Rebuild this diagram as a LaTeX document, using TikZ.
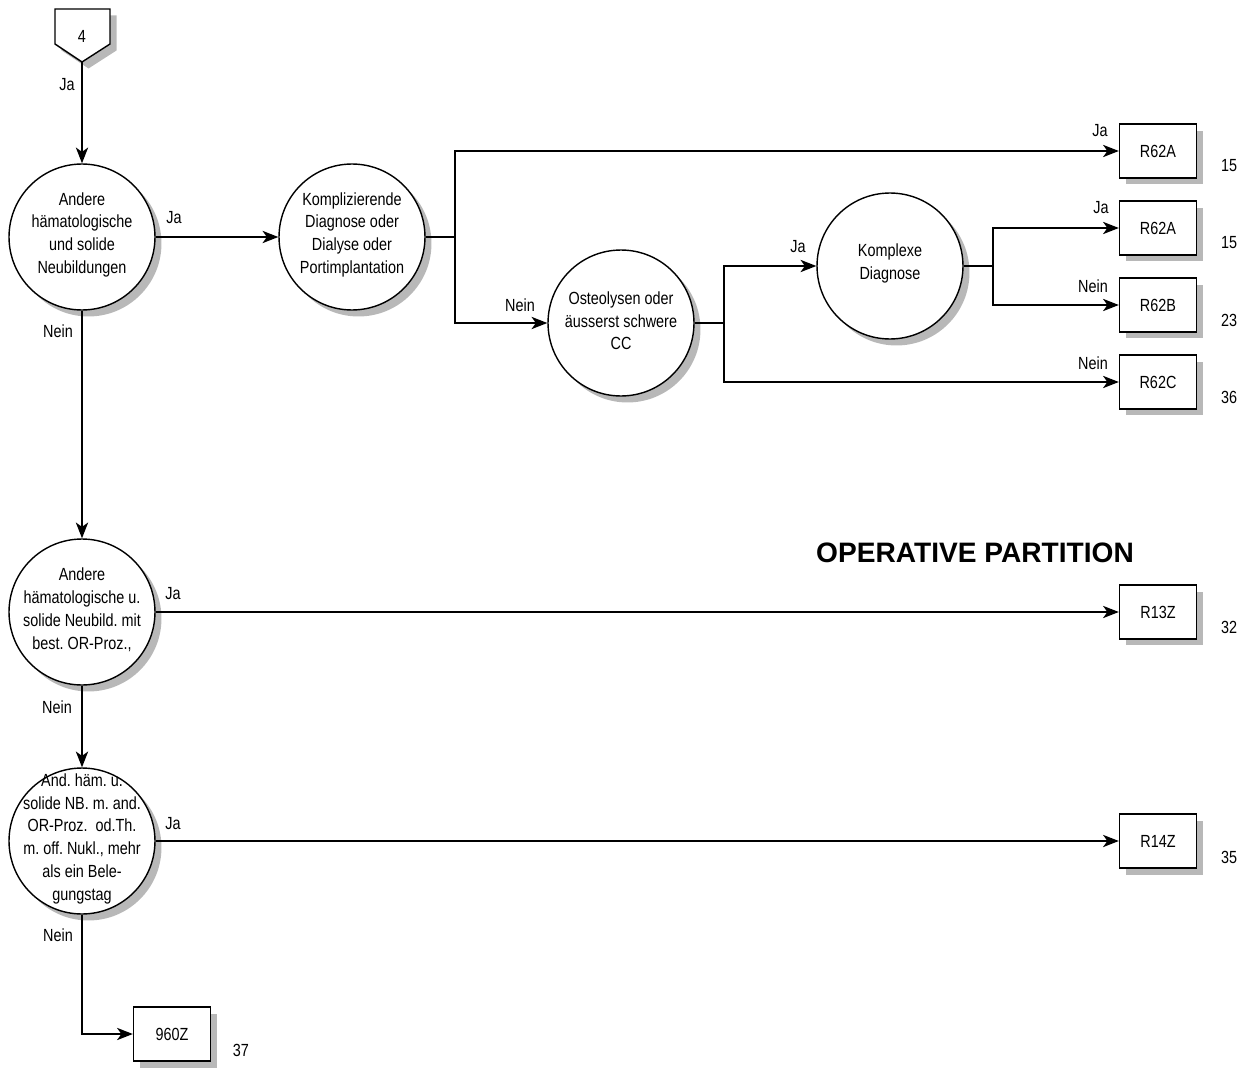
\documentclass[tikz,border=0pt]{standalone}
\usepackage{fontspec}
\setmainfont{Liberation Sans}
\newfontfamily\engfont[FakeStretch=0.82]{Liberation Sans}
\usetikzlibrary{arrows.meta,shadows}
\newcommand{\ktext}[1]{\parbox[c][0pt][c]{2.8cm}{\centering #1}}

\begin{document}
\begin{tikzpicture}[x=0.02cm,y=-0.02cm,font=\engfont\fontsize{10}{13}\selectfont\frenchspacing]
\tikzstyle{schatten}=[drop shadow={shadow xshift=0.13cm,shadow yshift=-0.13cm,fill=black!28,opacity=1}]
\tikzstyle{linie}=[line width=0.8pt]
\tikzstyle{pfeil}=[line width=0.8pt,-{Stealth[length=9pt,width=7pt,inset=2.5pt]}]
\tikzstyle{frage}=[circle,draw,line width=0.8pt,fill=white,minimum size=2.92cm,inner sep=0pt,schatten]
\tikzstyle{drg}=[rectangle,draw,line width=0.8pt,fill=white,minimum width=1.54cm,minimum height=1.08cm,inner sep=0pt,schatten]
\useasboundingbox (0,0) rectangle (1251,1068);

\draw[linie,fill=white,schatten] (55,9) -- (110,9) -- (110,44) -- (82,62) -- (55,44) -- cycle;
\node (vier) at (82,36) {4};
\coordinate (spitze) at (82,62);

\node[frage] (andere) at (82,237) {\ktext{Andere\\hämatologische\\und solide\\Neubildungen}};
\node[frage] (kompl) at (352,237) {\ktext{Komplizierende\\Diagnose oder\\Dialyse oder\\Portimplantation}};
\node[frage] (osteo) at (621,323) {\ktext{Osteolysen oder\\äusserst schwere\\CC}};
\node[frage] (komplexe) at (890,266) {\ktext{Komplexe\\Diagnose}};
\node[frage] (oper) at (82,612) {\ktext{Andere\\hämatologische u.\\solide Neubild. mit\\best. OR-Proz.,}};
\node[frage] (andor) at (82,841) {\ktext{And. häm. u.\\solide NB. m. and.\\OR-Proz.\ \ od.Th.\\m. off. Nukl., mehr\\als ein Bele-\\gungstag}};

\node[drg] (r62a) at (1158,151) {R62A};
\node[drg] (r62ab) at (1158,228) {R62A};
\node[drg] (r62b) at (1158,305) {R62B};
\node[drg] (r62c) at (1158,382) {R62C};
\node[drg] (r13z) at (1158,612) {R13Z};
\node[drg] (r14z) at (1158,841) {R14Z};
\node[drg] (z960) at (172,1034) {960Z};

\node (n1) at (1229,166) {15};
\node (n2) at (1229,243) {15};
\node (n3) at (1229,320) {23};
\node (n4) at (1229,397) {36};
\node (n5) at (1229,627) {32};
\node (n6) at (1229,857) {35};
\node (n7) at (241,1050) {37};

\node[font={\bfseries\fontsize{16}{19}\selectfont}] (titel) at (975,553) {OPERATIVE PARTITION};

\coordinate (v1) at (455,237);
\coordinate (v2) at (724,323);
\coordinate (v3) at (993,266);

\draw[pfeil] (spitze) -- (andere);
\draw[pfeil] (andere) -- (kompl);
\draw[linie] (kompl) -- (v1);
\draw[pfeil] (v1) |- (r62a);
\draw[pfeil] (v1) |- (osteo);
\draw[linie] (osteo) -- (v2);
\draw[pfeil] (v2) |- (komplexe);
\draw[pfeil] (v2) |- (r62c);
\draw[linie] (komplexe) -- (v3);
\draw[pfeil] (v3) |- (r62ab);
\draw[pfeil] (v3) |- (r62b);
\draw[pfeil] (andere) -- (oper);
\draw[pfeil] (oper) -- (r13z);
\draw[pfeil] (oper) -- (andor);
\draw[pfeil] (andor) -- (r14z);
\draw[pfeil] (andor) |- (z960);

\node (l1) at (67,85) {Ja};
\node (l2) at (174,218) {Ja};
\node (l3) at (1100,131) {Ja};
\node (l4) at (520,305) {Nein};
\node (l5) at (798,247) {Ja};
\node (l6) at (1101,208) {Ja};
\node (l7) at (1093,286) {Nein};
\node (l8) at (1093,363) {Nein};
\node (l9) at (58,331) {Nein};
\node (l10) at (173,594) {Ja};
\node (l11) at (57,707) {Nein};
\node (l12) at (173,824) {Ja};
\node (l13) at (58,935) {Nein};

\end{tikzpicture}
\end{document}
